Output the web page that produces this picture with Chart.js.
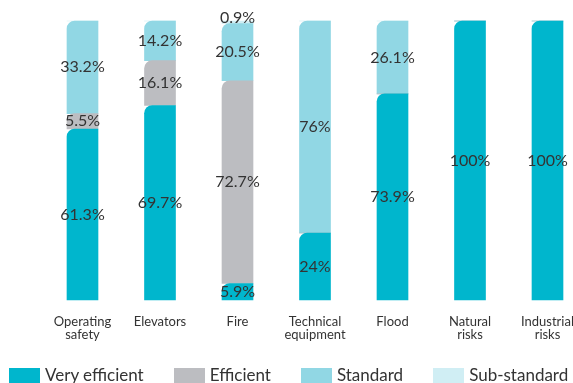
<!DOCTYPE html>
<html lang="en">
<head>
    <meta charset="UTF-8">
    <title>Efficiency by risk</title>
    <script src="https://cdn.jsdelivr.net/npm/chart.js"></script>
    <style>
        html, body {
            margin: 0;
            padding: 0;
            background: #fff;
            overflow: hidden;
        }
        #wrap {
            position: relative;
            width: 573px;
            height: 383px;
        }
        #legend {
            position: absolute;
            left: 9px;
            top: 366px;
            display: flex;
            font-family: Lato, sans-serif;
            font-size: 17px;
            line-height: 17px;
            color: #333;
            white-space: nowrap;
        }
        .item {
            display: flex;
            align-items: flex-start;
            margin-right: 30px;
        }
        .box {
            width: 31px;
            height: 16px;
            margin-top: 2px;
            margin-right: 5px;
        }
    </style>
</head>
<body>
    <div id="wrap">
        <canvas id="chart" width="573" height="383"></canvas>
        <div id="legend"></div>
    </div>
    <script>
        // categories and series (percent)
        const categories = [['Operating', 'safety'], 'Elevators', 'Fire', ['Technical', 'equipment'], 'Flood', ['Natural', 'risks'], ['Industrial', 'risks']];
        const seriesNames = ['Very efficient', 'Efficient', 'Standard', 'Sub-standard'];
        const veryEfficient = [61.3, 69.7, 5.9, 24, 73.9, 100, 100];
        const efficient = [5.5, 16.1, 72.7, 0, 0, 0, 0];
        const standard = [33.2, 14.2, 20.5, 76, 26.1, 0, 0];
        const subStandard = [0, 0, 0.9, 0, 0, 0, 0];
        const colors = ['#00b6cd', '#bcbdc1', '#91d7e4', '#d0eef4'];

        // value labels in the middle of every segment
        const segmentLabels = {
            id: 'segmentLabels',
            afterDatasetsDraw(chart) {
                const ctx = chart.ctx;
                ctx.save();
                ctx.font = '16px Lato, sans-serif';
                ctx.fillStyle = '#333';
                ctx.textAlign = 'center';
                chart.data.datasets.forEach((ds, i) => {
                    const meta = chart.getDatasetMeta(i);
                    meta.data.forEach((bar, j) => {
                        const v = ds.data[j];
                        if (!v) return;
                        const p = bar.getProps(['x', 'y', 'base'], true);
                        const h = p.base - p.y;
                        if (h < 12) {
                            // tiny segment: sit the text on its lower edge
                            ctx.textBaseline = 'bottom';
                            ctx.fillText(v + '%', p.x, p.base + 2);
                        } else {
                            ctx.textBaseline = 'middle';
                            ctx.fillText(v + '%', p.x, (p.y + p.base) / 2);
                        }
                    });
                });
                ctx.restore();
            }
        };

        const seriesData = [veryEfficient, efficient, standard, subStandard];

        const chart = new Chart(document.getElementById('chart'), {
            type: 'bar',
            data: {
                labels: categories,
                datasets: seriesData.map((d, i) => ({
                    label: seriesNames[i],
                    data: d,
                    backgroundColor: colors[i],
                    borderWidth: 0,
                    borderRadius: { topLeft: 8, topRight: 0, bottomLeft: 0, bottomRight: 0 },
                    barThickness: 31,
                    clip: false
                }))
            },
            options: {
                responsive: false,
                animation: false,
                layout: {
                    padding: { left: 82.5, right: 25.5, top: 21, bottom: 27 }
                },
                plugins: {
                    legend: { display: false },
                    tooltip: { enabled: false }
                },
                scales: {
                    x: {
                        stacked: true,
                        offset: false,
                        grid: { display: false, drawTicks: false },
                        border: { display: false },
                        ticks: {
                            color: '#333',
                            padding: 15,
                            maxRotation: 0,
                            autoSkip: false,
                            font: { family: 'Lato', size: 13, lineHeight: 1 }
                        },
                        afterFit(scale) {
                            // keep the bars where the layout padding puts them
                            scale.paddingLeft = 0;
                            scale.paddingRight = 0;
                        }
                    },
                    y: {
                        stacked: true,
                        display: false,
                        min: 0,
                        max: 100
                    }
                }
            },
            plugins: [segmentLabels]
        });

        // html legend
        const legendEl = document.getElementById('legend');
        chart.data.datasets.forEach(ds => {
            const item = document.createElement('div');
            item.className = 'item';
            item.innerHTML = `<span class="box" style="background:${ds.backgroundColor}"></span><span>${ds.label}</span>`;
            legendEl.appendChild(item);
        });
    </script>
</body>
</html>
